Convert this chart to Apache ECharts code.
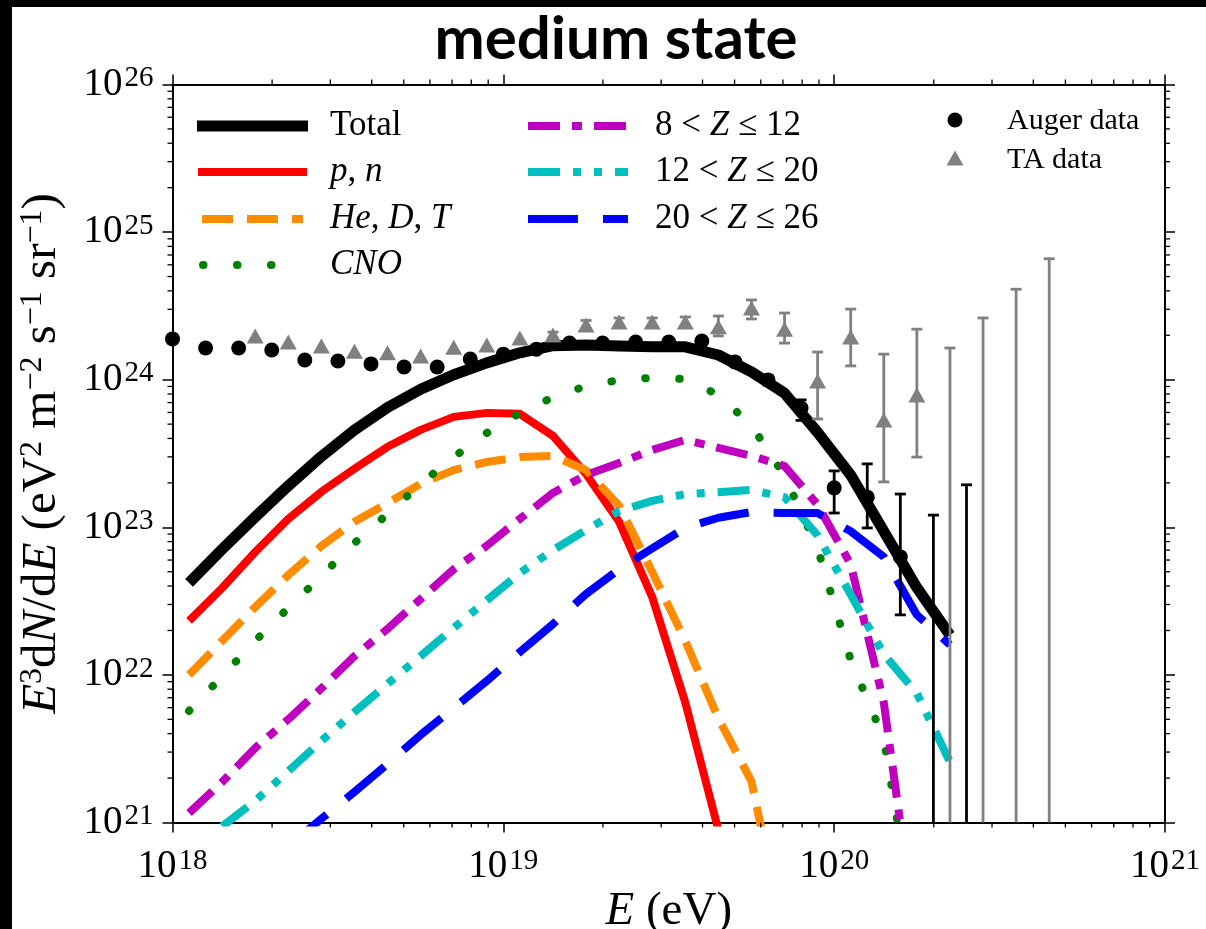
<!DOCTYPE html>
<html>
<head>
<meta charset="utf-8">
<script src="https://cdn.jsdelivr.net/npm/echarts@6/dist/echarts.min.js"></script>
<style>
  html, body { margin: 0; padding: 0; background: #fff; }
  #chart { position: absolute; left: 0; top: 0; width: 1206px; height: 929px; background: #fff; }
  .band { position: absolute; background: #000; z-index: 5; }
</style>
</head>
<body>
<div id="chart"></div>
<div class="band" style="left:0;top:0;width:1206px;height:7px;"></div>
<div class="band" style="left:0;top:0;width:12px;height:929px;"></div>
<script>
// ---- model spectra: log10(E / eV) grid and E^3 dN/dE (eV^2 m^-2 s^-1 sr^-1) ----
const modelLogE = [18.05, 18.15, 18.25, 18.35, 18.45, 18.55, 18.65, 18.75, 18.85, 18.95,
                   19.05, 19.15, 19.25, 19.35, 19.45, 19.55, 19.65, 19.75, 19.85, 19.95,
                   20.05, 20.15, 20.25, 20.35];
const totalFlux = [4.2e22, 7.1e22, 1.175e23, 1.91e23, 3.02e23, 4.56e23, 6.48e23, 8.61e23, 1.08e24, 1.30e24,
                   1.52e24, 1.70e24, 1.72e24, 1.69e24, 1.67e24, 1.67e24, 1.47e24, 1.13e24, 8.1e23, 4.4e23,
                   2.26e23, 9.4e22, 3.9e22, 1.86e22];
const protonFlux = [2.32e22, 3.88e22, 6.8e22, 1.14e23, 1.74e23, 2.49e23, 3.51e23, 4.57e23, 5.60e23, 5.96e23,
                    5.87e23, 4.16e23, 2.30e23, 1.09e23, 3.37e22, 6.5e21, 8.9e20, null, null, null,
                    null, null, null, null];
const heliumFlux = [1.0e22, 1.70e22, 2.88e22, 4.75e22, 7.48e22, 1.09e23, 1.46e23, 1.97e23, 2.44e23, 2.77e23,
                    2.99e23, 3.04e23, 2.44e23, 1.40e23, 4.98e22, 1.70e22, 5.07e21, 1.9e21, 1.6e20, null,
                    null, null, null, null];
const cnoFlux = [5.7e21, 9.8e21, 1.70e22, 2.84e22, 4.68e22, 7.83e22, 1.23e23, 1.97e23, 2.99e23, 4.35e23,
                 5.94e23, 7.6e23, 9.05e23, 9.95e23, 1.03e24, 1.01e24, 7.9e23, 4.9e23, 2.23e23, 7.2e22,
                 1.26e22, 3.7e21, 1.6e20, null];
const z8to12Flux = [1.16e21, 1.88e21, 3.2e21, 5.0e21, 8.1e21, 1.34e22, 2.05e22, 3.27e22, 5.2e22, 7.5e22,
                    1.14e23, 1.71e23, 2.26e23, 2.73e23, 3.34e23, 3.91e23, 3.45e23, 3.05e23, 2.6e23, 1.42e23,
                    5.6e22, 6.5e21, 1.5e20, null];
const z12to20Flux = [null, 9.4e20, 1.40e21, 2.23e21, 3.57e21, 5.6e21, 8.7e21, 1.34e22, 2.08e22, 3.2e22,
                     4.9e22, 7.0e22, 9.6e22, 1.29e23, 1.51e23, 1.68e23, 1.73e23, 1.79e23, 1.60e23, 8.8e22,
                     3.5e22, 1.38e22, 7.5e21, 2.57e21];
const z20to26Flux = [null, null, null, 6.9e20, 1.06e21, 1.61e21, 2.49e21, 3.92e21, 5.97e21, 9.1e21,
                     1.43e22, 2.21e22, 3.53e22, 5.2e22, 7.2e22, 9.9e22, 1.16e23, 1.27e23, 1.25e23, 1.25e23,
                     9.4e22, 6.3e22, 2.55e22, 1.6e22];

// ---- Auger measurements ----
const augerLogE = [18.0, 18.1, 18.2, 18.3, 18.4, 18.5, 18.6, 18.7, 18.8, 18.9, 19.0, 19.1,
                   19.2, 19.3, 19.4, 19.5, 19.6, 19.7, 19.8, 19.9, 20.0, 20.1, 20.2];
const augerFlux = [1.89e24, 1.64e24, 1.64e24, 1.59e24, 1.36e24, 1.34e24, 1.28e24, 1.22e24, 1.22e24, 1.38e24,
                   1.49e24, 1.61e24, 1.77e24, 1.77e24, 1.80e24, 1.80e24, 1.83e24, 1.32e24, 9.95e23, 6.43e23,
                   1.85e23, 1.60e23, 6.3e22];
const augerLow = [null, null, null, null, null, null, null, null, null, null, null, null,
                  null, null, null, null, null, null, 9.2e23, 5.3e23, 1.25e23, 9.9e22, 2.55e22];
const augerHigh = [null, null, null, null, null, null, null, null, null, null, null, null,
                   null, null, null, null, null, null, 1.07e24, 7.3e23, 2.41e23, 2.69e23, 1.68e23];
const augerLimitLogE = [20.3, 20.4];
const augerLimitTop = [1.21e23, 1.94e23];

// ---- TA measurements ----
const taLogE = [18.25, 18.35, 18.45, 18.55, 18.65, 18.75, 18.85, 18.95, 19.05, 19.15, 19.25,
                19.35, 19.45, 19.55, 19.65, 19.75, 19.85, 19.95, 20.05, 20.15, 20.25];
const taFlux = [1.98e24, 1.80e24, 1.69e24, 1.56e24, 1.52e24, 1.45e24, 1.66e24, 1.72e24, 1.92e24, 2.01e24, 2.35e24,
                2.46e24, 2.46e24, 2.46e24, 2.28e24, 3.06e24, 2.20e24, 9.8e23, 1.95e24, 5.33e23, 7.87e23];
const taLow = [null, null, null, null, null, null, null, null, null, 1.92e24, 2.2e24,
               2.3e24, 2.3e24, 2.28e24, 1.98e24, 2.58e24, 1.77e24, 5.42e23, 1.24e24, 2.03e23, 2.99e23];
const taHigh = [null, null, null, null, null, null, null, null, null, 2.10e24, 2.52e24,
                2.62e24, 2.62e24, 2.66e24, 2.70e24, 3.47e24, 2.83e24, 1.54e24, 3.01e24, 1.49e24, 2.20e24];
const taLimitLogE = [20.35, 20.45, 20.55, 20.65];
const taLimitTop = [1.64e24, 2.62e24, 4.1e24, 6.6e24];

// ---- axis ranges ----
const energyRange = [1e18, 1e21];
const fluxRange = [1e21, 1e26];

const serif = '"Liberation Serif", "Times New Roman", serif';
const toPairs = (logE, vals) => logE.map((L, i) => [Math.pow(10, L), vals[i]]);

// decade labels 10^n
function powerLabel(v) {
  const e = Math.round(Math.log10(v));
  return '{b|10}{s|' + e + '}';
}
const tickRich = {
  b: { fontFamily: serif, fontSize: 39, lineHeight: 41, color: '#000' },
  s: { fontFamily: serif, fontSize: 29, lineHeight: 28, verticalAlign: 'top', color: '#000', padding: [0, 0, 0, 2] }
};

const axisLineStyle = { show: true, onZero: false, lineStyle: { color: '#000', width: 2 } };
const majorTick = { show: true, inside: false, length: 10, lineStyle: { color: '#000', width: 1.5 } };

// minor ticks at 2..9 times each power of ten
const xMinorTicks = [], yMinorTicks = [];
for (let d = 18; d < 21; d++) for (let m = 2; m <= 9; m++) xMinorTicks.push(m * Math.pow(10, d));
for (let d = 21; d < 26; d++) for (let m = 2; m <= 9; m++) yMinorTicks.push(m * Math.pow(10, d));

function minorTickSeries(values, horizontal) {
  return {
    type: 'custom', coordinateSystem: 'cartesian2d', silent: true, clip: false, z: 6,
    data: values.map(v => horizontal ? [v, 1e23] : [1e19, v]),
    encode: { x: 0, y: 1 },
    renderItem(params, api) {
      const cs = params.coordSys;
      const p = api.coord([api.value(0), api.value(1)]);
      const st = { stroke: '#000', lineWidth: 1.3 };
      const len = 5;
      if (horizontal) {
        return { type: 'group', children: [
          { type: 'line', shape: { x1: p[0], y1: cs.y + cs.height, x2: p[0], y2: cs.y + cs.height + len }, style: st },
          { type: 'line', shape: { x1: p[0], y1: cs.y, x2: p[0], y2: cs.y - len }, style: st }
        ] };
      }
      return { type: 'group', children: [
        { type: 'line', shape: { x1: cs.x, y1: p[1], x2: cs.x - len, y2: p[1] }, style: st },
        { type: 'line', shape: { x1: cs.x + cs.width, y1: p[1], x2: cs.x + cs.width + len, y2: p[1] }, style: st }
      ] };
    }
  };
}

// vertical error bars with caps; a missing lower end runs down to the frame
function errorBarSeries(logE, low, high, color, z) {
  const data = logE.map((L, i) => [Math.pow(10, L), low[i], high[i]]).filter(d => d[2] != null);
  return {
    type: 'custom', coordinateSystem: 'cartesian2d', silent: true, z,
    data, encode: { x: 0, y: 2 },
    renderItem(params, api) {
      const cs = params.coordSys;
      const x = api.value(0), lo = api.value(1), hi = api.value(2);
      const top = api.coord([x, hi]);
      const hasLow = lo > 0;
      const bottomY = hasLow ? api.coord([x, lo])[1] : cs.y + cs.height;
      const half = 5.5;
      const st = { stroke: color, lineWidth: 2.8 };
      const children = [
        { type: 'line', shape: { x1: top[0], y1: top[1], x2: top[0], y2: bottomY }, style: st },
        { type: 'line', shape: { x1: top[0] - half, y1: top[1], x2: top[0] + half, y2: top[1] }, style: st }
      ];
      if (hasLow) children.push({ type: 'line', shape: { x1: top[0] - half, y1: bottomY, x2: top[0] + half, y2: bottomY }, style: st });
      return { type: 'group', children };
    }
  };
}

function modelSeries(name, vals, color, width, dash, cap) {
  return {
    name, type: 'line', data: toPairs(modelLogE, vals), showSymbol: false, symbol: 'none',
    connectNulls: false, clip: true, z: 2, silent: true,
    lineStyle: { color, width, type: dash || 'solid', cap: cap || 'butt', join: 'round' }
  };
}

const COL = {
  total: '#000000', p: '#ff0000', he: '#ff8c00', cno: '#008000',
  m: '#bf00bf', c: '#00bfbf', b: '#0000ff', ta: '#808080'
};
const DASH = {
  he: [31, 14], cno: [0.5, 33.5], m: [32, 12, 10, 12], c: [32, 13, 8, 13, 8, 13], b: [50, 25]
};

// legend drawing
const legendText = (x, y, text, size) => ({
  type: 'text', x, y, silent: true, z: 20,
  style: {
    text, fill: '#000', fontFamily: serif, fontSize: size, align: 'left', verticalAlign: 'middle',
    rich: { i: { fontFamily: serif, fontSize: size, fontStyle: 'italic' } }
  }
});
const legendLine = (x1, x2, y, stroke, width, dash, cap) => ({
  type: 'line', silent: true, z: 20,
  shape: { x1, y1: y, x2, y2: y },
  style: { stroke, lineWidth: width, lineDash: dash || null, lineCap: cap || 'butt' }
});

const rows = [126, 172, 219, 265];
const graphics = [
  { type: 'text', x: 616, y: 40, silent: true,
    style: { text: 'medium state', fill: '#000', fontFamily: 'Lato, "Noto Sans", sans-serif',
             fontWeight: 'bold', fontSize: 60, align: 'center', verticalAlign: 'middle' } },
  legendLine(197, 308, rows[0], COL.total, 11),
  legendText(330, rows[0], 'Total', 35),
  legendLine(198, 307, rows[1], COL.p, 8),
  legendText(330, rows[1], '{i|p}, {i|n}', 35),
  legendLine(202, 303, rows[2], COL.he, 8, DASH.he),
  legendText(330, rows[2], '{i|He}, {i|D}, {i|T}', 35),
  legendLine(203, 285, rows[3], COL.cno, 8, DASH.cno, 'round'),
  legendText(330, rows[3], '{i|CNO}', 35),
  legendLine(528, 628, rows[0], COL.m, 8, DASH.m),
  legendText(655, rows[0], '8 < {i|Z} ≤ 12', 35),
  legendLine(528, 628, rows[1], COL.c, 8, DASH.c),
  legendText(655, rows[1], '12 < {i|Z} ≤ 20', 35),
  legendLine(528, 628, rows[2], COL.b, 8, DASH.b),
  legendText(655, rows[2], '20 < {i|Z} ≤ 26', 35),
  { type: 'circle', silent: true, z: 20, shape: { cx: 955, cy: 120, r: 7.5 }, style: { fill: '#000' } },
  legendText(1007, 121, 'Auger data', 30),
  { type: 'polygon', silent: true, z: 20, shape: { points: [[955, 150.5], [946.5, 165.5], [963.5, 165.5]] }, style: { fill: COL.ta } },
  legendText(1007, 160, 'TA data', 30)
];

const chart = echarts.init(document.getElementById('chart'), null, { renderer: 'canvas' });
chart.setOption({
  animation: false,
  backgroundColor: '#fff',
  grid: { left: 172.5, top: 84.5, width: 992.5, height: 738, containLabel: false, outerBoundsMode: 'none' },
  xAxis: [
    {
      type: 'log', logBase: 10, min: energyRange[0], max: energyRange[1], position: 'bottom',
      axisLine: axisLineStyle, axisTick: majorTick, splitLine: { show: false },
      axisLabel: { formatter: powerLabel, rich: tickRich, margin: 24 },
      name: '{i|E} (eV)', nameLocation: 'middle', nameGap: 66, nameMoveOverlap: false,
      nameTextStyle: { fontFamily: serif, fontSize: 47, color: '#000', verticalAlign: 'top',
        rich: { i: { fontFamily: serif, fontSize: 47, fontStyle: 'italic' } } }
    },
    {
      type: 'log', logBase: 10, min: energyRange[0], max: energyRange[1], position: 'top',
      axisLine: axisLineStyle, axisTick: majorTick, axisLabel: { show: false }, splitLine: { show: false }
    }
  ],
  yAxis: [
    {
      type: 'log', logBase: 10, min: fluxRange[0], max: fluxRange[1], position: 'left',
      axisLine: axisLineStyle, axisTick: majorTick, splitLine: { show: false },
      axisLabel: { formatter: powerLabel, rich: tickRich, margin: 19 },
      name: '{i|E}{s|3}d{i|N}/d{i|E} (eV{s|2} m{s|−2} s{s|−1} sr{s|−1})',
      nameLocation: 'middle', nameRotate: 90, nameGap: 104, nameMoveOverlap: false,
      nameTextStyle: { fontFamily: serif, fontSize: 49, color: '#000',
        rich: {
          i: { fontFamily: serif, fontSize: 49, fontStyle: 'italic', lineHeight: 52 },
          s: { fontFamily: serif, fontSize: 32, lineHeight: 32, verticalAlign: 'top' }
        } }
    },
    {
      type: 'log', logBase: 10, min: fluxRange[0], max: fluxRange[1], position: 'right',
      axisLine: axisLineStyle, axisTick: majorTick, axisLabel: { show: false }, splitLine: { show: false }
    }
  ],
  series: [
    modelSeries('Total', totalFlux, COL.total, 11),
    modelSeries('p, n', protonFlux, COL.p, 8),
    modelSeries('He, D, T', heliumFlux, COL.he, 8, DASH.he),
    modelSeries('CNO', cnoFlux, COL.cno, 8, DASH.cno, 'round'),
    modelSeries('8 < Z ≤ 12', z8to12Flux, COL.m, 8, DASH.m),
    modelSeries('12 < Z ≤ 20', z12to20Flux, COL.c, 8, DASH.c),
    modelSeries('20 < Z ≤ 26', z20to26Flux, COL.b, 8, DASH.b),
    errorBarSeries(augerLogE, augerLow, augerHigh, '#000', 3),
    errorBarSeries(augerLimitLogE, augerLimitLogE.map(() => null), augerLimitTop, '#000', 3),
    errorBarSeries(taLogE, taLow, taHigh, COL.ta, 3),
    errorBarSeries(taLimitLogE, taLimitLogE.map(() => null), taLimitTop, COL.ta, 3),
    {
      name: 'TA data', type: 'scatter', data: toPairs(taLogE, taFlux), symbol: 'triangle',
      symbolSize: [17, 15], itemStyle: { color: COL.ta, opacity: 1 }, z: 4, silent: true
    },
    {
      name: 'Auger data', type: 'scatter', data: toPairs(augerLogE, augerFlux), symbol: 'circle',
      symbolSize: 15, itemStyle: { color: '#000', opacity: 1 }, z: 4, silent: true, clip: false
    },
    minorTickSeries(xMinorTicks, true),
    minorTickSeries(yMinorTicks, false)
  ],
  graphic: graphics
});
</script>
</body>
</html>
